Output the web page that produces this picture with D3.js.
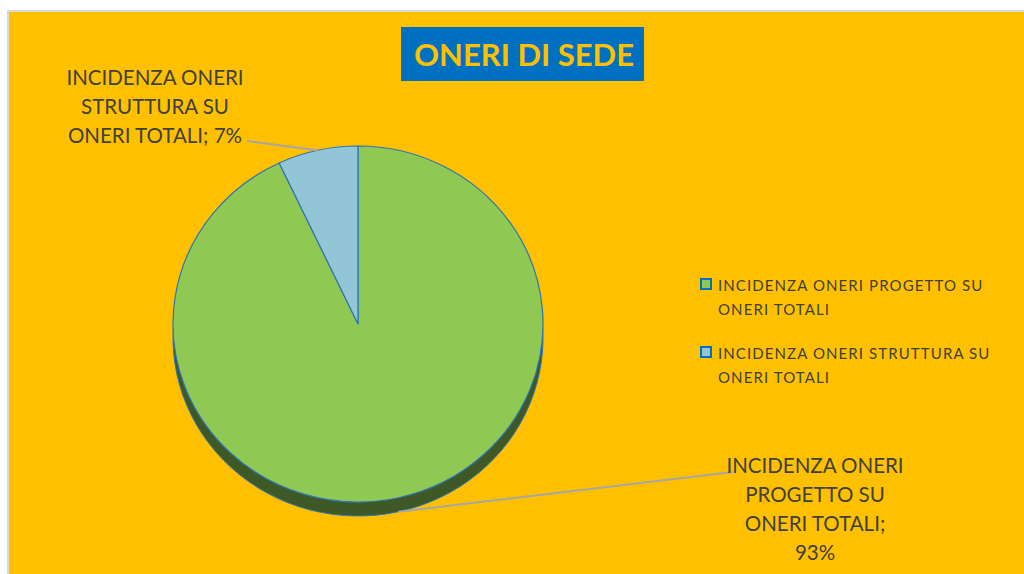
<!DOCTYPE html>
<html>
<head>
<meta charset="utf-8">
<script src="https://cdn.jsdelivr.net/npm/d3@7"></script>
<style>
  body { margin: 0; background: #fff; }
  text { font-family: Lato, "Open Sans", sans-serif; fill: #404040; }
</style>
</head>
<body>
<div id="chart"></div>
<script>
const labels = ["INCIDENZA ONERI PROGETTO SU ONERI TOTALI", "INCIDENZA ONERI STRUTTURA SU ONERI TOTALI"];
const values = [93, 7];
const colors = ["#8FC852", "#92C5D5"];
const sideColors = ["#3E5826", "#4A7080"];

const width = 1024, height = 574;

const svg = d3.select("#chart")
    .append("svg")
    .attr("width", width)
    .attr("height", height);

// chart area
svg.append("rect")
    .attr("x", 8).attr("y", 11)
    .attr("width", width).attr("height", height)
    .attr("fill", "#FFC000")
    .attr("stroke", "#D9D9D9")
    .attr("stroke-width", 2);

// title
svg.append("rect")
    .attr("x", 401).attr("y", 27)
    .attr("width", 243).attr("height", 54)
    .attr("fill", "#0070C0");
svg.append("text")
    .attr("x", 524).attr("y", 66)
    .attr("text-anchor", "middle")
    .attr("font-size", 31)
    .attr("font-weight", "bold")
    .style("fill", "#FFC000")
    .text("ONERI DI SEDE");

const cx = 358, cy = 324, rx = 185, ry = 178, depth = 14;

const pie = d3.pie().sort(null).value(d => d);
const arcs = pie(values);
const arc = d3.arc().innerRadius(0).outerRadius(rx);

// 3d side (shifted copy behind)
const side = svg.append("g")
    .attr("transform", `translate(${cx},${cy + depth}) scale(1,${ry / rx})`);
side.selectAll("path")
    .data(arcs)
    .join("path")
    .attr("d", arc)
    .attr("fill", (d, i) => sideColors[i])
    .attr("stroke", "#2E75B6")
    .attr("stroke-width", 1)
    .attr("vector-effect", "non-scaling-stroke");

// fill the gap between side and top
svg.append("rect")
    .attr("x", cx - rx).attr("y", cy)
    .attr("width", 2 * rx).attr("height", depth)
    .attr("fill", sideColors[0]);

const face = svg.append("g")
    .attr("transform", `translate(${cx},${cy}) scale(1,${ry / rx})`);
face.selectAll("path")
    .data(arcs)
    .join("path")
    .attr("d", arc)
    .attr("fill", (d, i) => colors[i])
    .attr("stroke", "#2E75B6")
    .attr("stroke-width", 1.2)
    .attr("vector-effect", "non-scaling-stroke");

// point on the pie edge for a slice's middle angle
function edge(d, extra) {
    const a = (d.startAngle + d.endAngle) / 2;
    return [cx + rx * Math.sin(a), cy - ry * Math.cos(a) + (extra || 0)];
}

// data labels
const dataLabels = [
    { lines: ["INCIDENZA ONERI", "PROGETTO SU", "ONERI TOTALI;", values[0] + "%"], x: 815, y: 473, end: [733, 472], extra: depth },
    { lines: ["INCIDENZA ONERI", "STRUTTURA SU", "ONERI TOTALI; " + values[1] + "%"], x: 155, y: 85, end: [247, 141], extra: 0 }
];

dataLabels.forEach((l, i) => {
    const p = edge(arcs[i], l.extra);
    svg.append("line")
        .attr("x1", p[0]).attr("y1", p[1])
        .attr("x2", l.end[0]).attr("y2", l.end[1])
        .attr("stroke", "#A6A6A6")
        .attr("stroke-width", 2);
    const t = svg.append("text")
        .attr("text-anchor", "middle")
        .attr("font-size", 20.5);
    l.lines.forEach((s, j) => {
        t.append("tspan")
            .attr("x", l.x)
            .attr("y", l.y + j * 29)
            .text(s);
    });
});

// legend
const legendLines = [["INCIDENZA ONERI PROGETTO SU", "ONERI TOTALI"], ["INCIDENZA ONERI STRUTTURA SU", "ONERI TOTALI"]];
legendLines.forEach((ls, i) => {
    const y0 = 285 + i * 68;
    svg.append("rect")
        .attr("x", 701).attr("y", y0 - 6)
        .attr("width", 10).attr("height", 10)
        .attr("fill", colors[i])
        .attr("stroke", "#0070C0")
        .attr("stroke-width", 2);
    ls.forEach((s, j) => {
        svg.append("text")
            .attr("x", 718)
            .attr("y", y0 + 6 + j * 24)
            .attr("font-size", 15)
            .attr("letter-spacing", 1.1)
            .text(s);
    });
});
</script>
</body>
</html>
